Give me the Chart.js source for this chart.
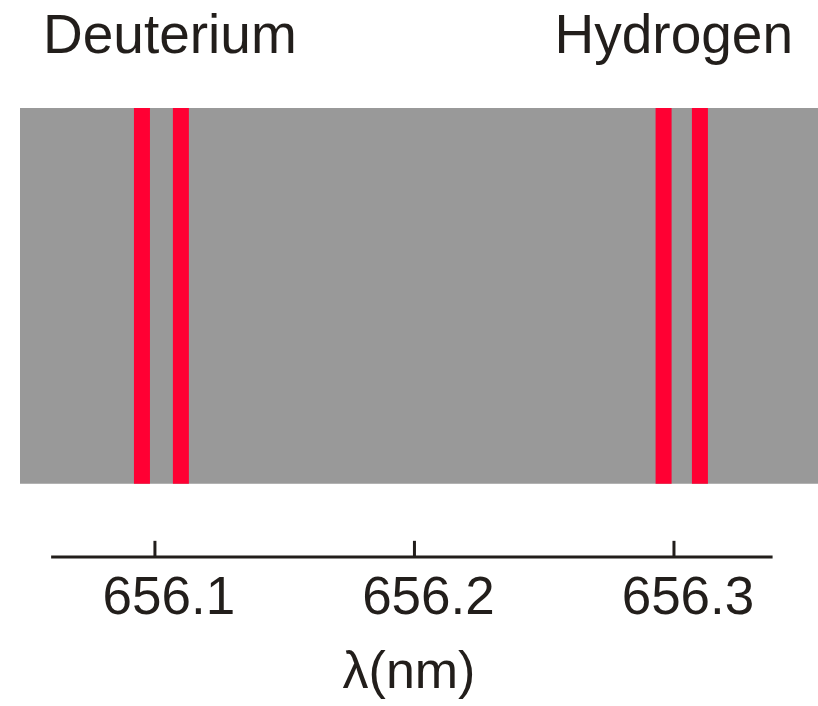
<!DOCTYPE html>
<html>
<head>
<meta charset="utf-8">
<script src="https://cdn.jsdelivr.net/npm/chart.js@4.4.1/dist/chart.umd.min.js"></script>
<style>
  body { margin: 0; background: #fff; }
  #spectrum { display: block; }
</style>
</head>
<body>
<canvas id="spectrum" width="818" height="706"></canvas>
<script>
// wavelengths (nm)
var deuteriumLines = [656.095, 656.110];
var hydrogenLines = [656.296, 656.310];
var bandRange = [656.048, 656.36];   // grey strip
var axisRange = [656.06, 656.338];   // drawn axis line
var tickValues = [656.1, 656.2, 656.3];
var tickLabels = ["656.1", "656.2", "656.3"];

var FONT = "'Liberation Sans', Arial, Helvetica, sans-serif";
var INK = "#221e1b";
var BAND_BOTTOM = 0.1633; // y units, chart bottom = axis line
var TICK_TOP = 0.036;

function vline(x, y0, y1, color, width) {
  return {
    data: [{x: x, y: y0}, {x: x, y: y1}],
    showLine: true,
    borderColor: color,
    borderWidth: width,
    borderCapStyle: "butt",
    pointRadius: 0,
    clip: false,
    order: 1
  };
}

var datasets = [];
// grey band
datasets.push({
  data: [{x: bandRange[0], y: 1}, {x: bandRange[1], y: 1}],
  showLine: true,
  borderWidth: 0,
  borderColor: "rgba(0,0,0,0)",
  backgroundColor: "#999999",
  fill: {value: BAND_BOTTOM},
  pointRadius: 0,
  order: 10
});
// emission lines
deuteriumLines.concat(hydrogenLines).forEach(function (w) {
  datasets.push(vline(w, BAND_BOTTOM, 1, "#ff0033", 16));
});
// axis line + upward ticks
datasets.push({
  data: [{x: axisRange[0], y: 0}, {x: axisRange[1], y: 0}],
  showLine: true,
  borderColor: INK,
  borderWidth: 3,
  pointRadius: 0,
  clip: false,
  order: 2
});
tickValues.forEach(function (t) {
  datasets.push(vline(t, 0, TICK_TOP, INK, 3));
});

var topLabels = {
  id: "topLabels",
  afterDraw: function (chart) {
    var ctx = chart.ctx;
    ctx.save();
    ctx.fillStyle = INK;
    ctx.font = "55px " + FONT;
    ctx.textBaseline = "alphabetic";
    ctx.textAlign = "left";
    ctx.fillText("Deuterium", 43, 53);
    ctx.textAlign = "right";
    ctx.fillText("Hydrogen", 793, 53);
    ctx.restore();
  }
};

var ctx = document.getElementById("spectrum").getContext("2d");
var chart = new Chart(ctx, {
  type: "scatter",
  data: {datasets: datasets},
  options: {
    responsive: false,
    animation: false,
    layout: {padding: {top: 108, left: 0, right: 0, bottom: 1}},
    plugins: {legend: {display: false}, tooltip: {enabled: false}},
    scales: {
      x: {
        type: "linear",
        min: 656.0403,
        max: 656.3555,
        afterBuildTicks: function (scale) {
          scale.ticks = tickValues.map(function (v) { return {value: v}; });
        },
        ticks: {
          font: {family: FONT, size: 53},
          color: INK,
          padding: 11,
          labelOffset: 14,
          maxRotation: 0,
          callback: function (value, index) { return tickLabels[index]; }
        },
        grid: {display: false, drawTicks: false},
        border: {display: false},
        title: {
          display: true,
          text: "λ(nm)",
          color: INK,
          font: {family: FONT, size: 52},
          padding: {top: 0, bottom: 0}
        }
      },
      y: {
        display: false,
        min: 0,
        max: 1
      }
    }
  },
  plugins: [topLabels]
});
</script>
</body>
</html>
